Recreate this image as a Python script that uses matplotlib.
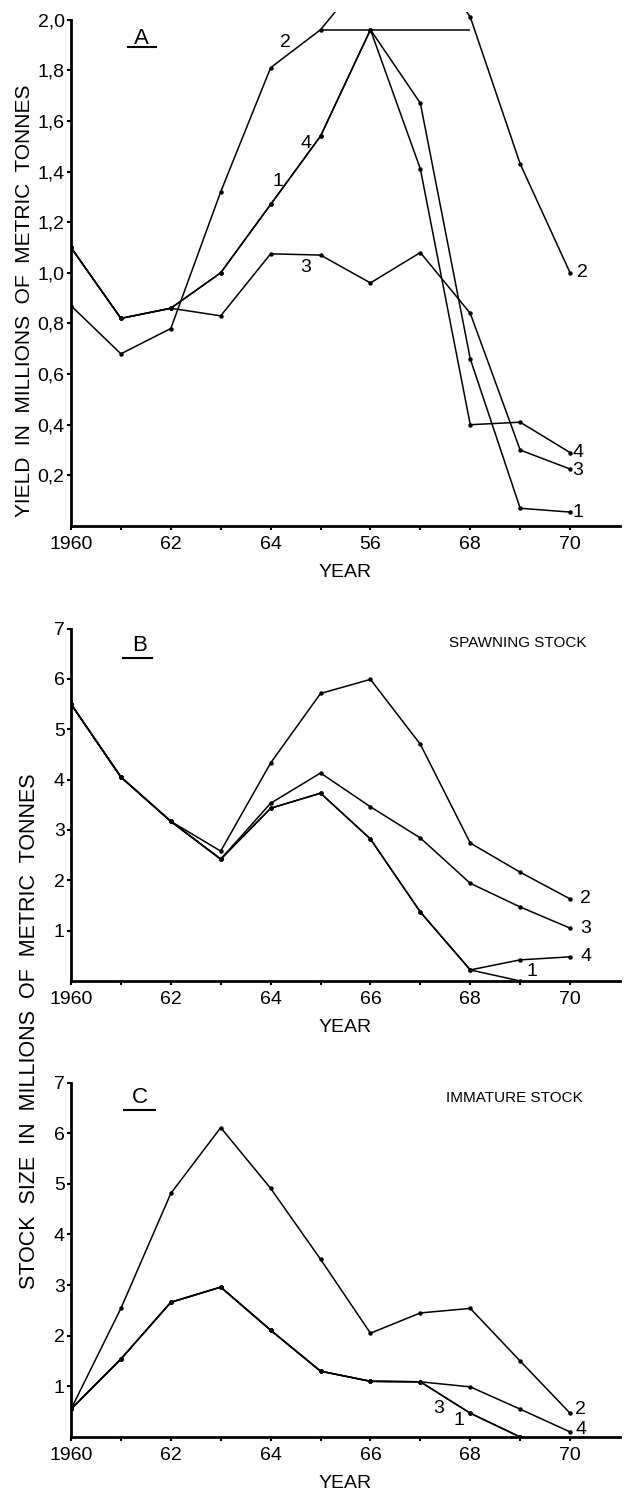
import numpy as np
import matplotlib
matplotlib.use("Agg")
import matplotlib.pyplot as plt

plt.rcParams['font.family'] = ['Liberation Sans', 'DejaVu Sans']

years = np.arange(1960, 1971)
year_ticks = [1960, 1962, 1964, 1966, 1968, 1970]
year_labels_a = ['1960', '62', '64', '56', '68', '70']
year_labels = ['1960', '62', '64', '66', '68', '70']

# A: yield, millions of metric tonnes
yield_1 = [1.10, 0.82, 0.86, 1.00, 1.27, 1.54, 1.96, 1.67, 0.66, 0.07, 0.055]
yield_2 = [0.87, 0.68, 0.78, 1.32, 1.81, 1.96, 2.20, 2.30, 2.01, 1.43, 1.00]
yield_3 = [1.10, 0.82, 0.86, 0.83, 1.075, 1.07, 0.96, 1.08, 0.84, 0.30, 0.225]
yield_4 = [1.10, 0.82, 0.86, 1.00, 1.27, 1.54, 1.96, 1.41, 0.40, 0.41, 0.29]
yield_ticks = [0.2, 0.4, 0.6, 0.8, 1.0, 1.2, 1.4, 1.6, 1.8, 2.0]
yield_ticklabels = ['0,2', '0,4', '0,6', '0,8', '1,0', '1,2', '1,4', '1,6', '1,8', '2,0']
break_level = 1.96

# B: spawning stock
spawn_1 = [5.5, 4.05, 3.17, 2.42, 3.43, 3.73, 2.82, 1.37, 0.22, 0.0, np.nan]
spawn_2 = [5.5, 4.05, 3.17, 2.58, 4.33, 5.71, 5.99, 4.70, 2.74, 2.16, 1.63]
spawn_3 = [5.5, 4.05, 3.17, 2.42, 3.53, 4.13, 3.46, 2.84, 1.94, 1.47, 1.05]
spawn_4 = [5.5, 4.05, 3.17, 2.42, 3.43, 3.73, 2.82, 1.37, 0.22, 0.42, 0.48]

# C: immature stock
imm_1 = [0.55, 1.54, 2.66, 2.96, 2.11, 1.30, 1.10, 1.09, 0.47, 0.0, np.nan]
imm_2 = [0.55, 2.54, 4.81, 6.11, 4.91, 3.51, 2.05, 2.45, 2.54, 1.50, 0.47]
imm_3 = [0.55, 1.54, 2.66, 2.96, 2.11, 1.30, 1.10, 1.09, 0.47, 0.0, np.nan]
imm_4 = [0.55, 1.54, 2.66, 2.96, 2.11, 1.30, 1.10, 1.09, 0.99, 0.55, 0.10]
stock_ticks = [1, 2, 3, 4, 5, 6, 7]

W, H = 627, 1493
fig = plt.figure(figsize=(W / 100, H / 100), dpi=100)


def px_axes(left, right, bottom, top):
    return fig.add_axes([left / W, 1 - bottom / H, (right - left) / W, (bottom - top) / H])


def style(ax, ymax, xlabels):
    for s in ['top', 'right']:
        ax.spines[s].set_visible(False)
    for s in ['left', 'bottom']:
        ax.spines[s].set_linewidth(2.0)
    ax.set_xlim(1960, 1971)
    ax.set_ylim(0, ymax)
    ax.set_xticks(year_ticks)
    ax.set_xticklabels(xlabels)
    ax.set_xticks(years, minor=True)
    ax.tick_params(axis='x', which='both', direction='out', length=3, width=1.5, labelsize=14, pad=4)
    ax.tick_params(axis='y', direction='out', length=3, width=1.5, labelsize=14, pad=1.5)
    ax.set_xlabel('YEAR', fontsize=14, labelpad=8)
    ax.patch.set_alpha(0)


def lines(ax, series):
    for s in series:
        ax.plot(years, s, color='black', lw=1.1, marker='o', ms=2.2)


kw = dict(fontsize=14, color='black')

# panel A
axA = px_axes(71, 620, 526, 12)
style(axA, 2.03, year_labels_a)
axA.spines['left'].set_bounds(0, 2.0)
axA.set_yticks(yield_ticks)
axA.set_yticklabels(yield_ticklabels)
lines(axA, [yield_1, yield_2, yield_3, yield_4])
axA.hlines(break_level, 1965, 1968, color='black', lw=1.1)
axA.text(1961.42, 1.925, 'A', fontsize=16, ha='center', va='center')
axA.plot([1961.14, 1961.7], [1.89, 1.89], color='black', lw=1.5)
axA.text(1964.3, 1.91, '2', ha='center', va='center', **kw)
axA.text(1964.7, 1.51, '4', ha='center', va='center', **kw)
axA.text(1964.15, 1.36, '1', ha='center', va='center', **kw)
axA.text(1964.7, 1.02, '3', ha='center', va='center', **kw)
axA.text(1970.14, 1.00, '2', ha='left', va='center', **kw)
axA.text(1970.05, 0.29, '4', ha='left', va='center', **kw)
axA.text(1970.05, 0.22, '3', ha='left', va='center', **kw)
axA.text(1970.05, 0.055, '1', ha='left', va='center', **kw)
fig.text(25 / W, 1 - 301 / H, 'YIELD  IN  MILLIONS  OF  METRIC  TONNES',
         rotation=90, ha='center', va='center', fontsize=15)

# panel B
axB = px_axes(71, 620, 981, 626)
style(axB, 7.05, year_labels)
axB.spines['left'].set_bounds(0, 7)
axB.set_yticks(stock_ticks)
lines(axB, [spawn_1, spawn_2, spawn_3, spawn_4])
axB.text(1961.37, 6.67, 'B', fontsize=16, ha='center', va='center')
axB.plot([1961.04, 1961.62], [6.41, 6.41], color='black', lw=1.5)
axB.text(1968.96, 6.71, 'SPAWNING STOCK', fontsize=11, ha='center', va='center')
axB.text(1970.2, 1.63, '2', ha='left', va='center', **kw)
axB.text(1970.2, 1.05, '3', ha='left', va='center', **kw)
axB.text(1970.2, 0.48, '4', ha='left', va='center', **kw)
axB.text(1969.24, 0.18, '1', ha='center', va='center', **kw)

# panel C
axC = px_axes(71, 620, 1437, 1080)
style(axC, 7.05, year_labels)
axC.spines['left'].set_bounds(0, 7)
axC.set_yticks(stock_ticks)
lines(axC, [imm_1, imm_2, imm_3, imm_4])
axC.text(1961.37, 6.7, 'C', fontsize=16, ha='center', va='center')
axC.plot([1961.06, 1961.68], [6.45, 6.45], color='black', lw=1.5)
axC.text(1968.88, 6.69, 'IMMATURE STOCK', fontsize=11, ha='center', va='center')
axC.text(1970.1, 0.55, '2', ha='left', va='center', **kw)
axC.text(1970.1, 0.14, '4', ha='left', va='center', **kw)
axC.text(1967.37, 0.57, '3', ha='center', va='center', **kw)
axC.text(1967.77, 0.32, '1', ha='center', va='center', **kw)

fig.text(30 / W, 1 - 1031 / H, 'STOCK  SIZE  IN  MILLIONS  OF  METRIC  TONNES',
         rotation=90, ha='center', va='center', fontsize=15.5)

fig.savefig('out.png', dpi=100)
